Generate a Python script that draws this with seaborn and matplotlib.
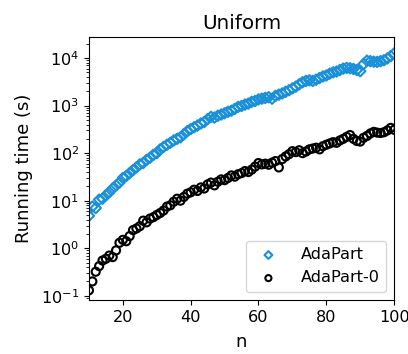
import numpy as np
import pandas as pd
import seaborn as sns
import matplotlib
matplotlib.use("Agg")
import matplotlib.pyplot as plt

n_values = list(range(10, 101))

adapart_time = [
    4.8, 7.5, 7.0, 10.5, 11, 13, 15, 18, 21, 24,
    30, 33, 38, 44, 50, 58, 62, 72, 80, 92,
    100, 120, 135, 150, 165, 185, 200, 215, 250, 290,
    320, 350, 380, 420, 450, 520, 580, 560, 610, 650,
    690, 740, 780, 850, 940, 980, 1050, 1100, 1200, 1250,
    1350, 1400, 1450, 1500, 1400, 1600, 1700, 1800, 1950, 2100,
    2300, 2500, 2800, 3100, 3300, 3400, 3300, 3500, 3800, 4100,
    4300, 4700, 5000, 5200, 5600, 6000, 6200, 6100, 5900, 5600,
    5300, 7500, 8800, 8600, 8400, 8300, 8600, 9000, 9800, 11000,
    12500,
]

adapart0_time = [
    0.13, 0.2, 0.32, 0.42, 0.55, 0.6, 0.7, 0.65, 0.9, 1.3,
    1.5, 1.4, 1.8, 2.4, 2.6, 2.9, 3.8, 3.5, 4.2, 4.5,
    5.0, 5.5, 6.2, 7.5, 8.0, 9.5, 11, 10, 12, 14,
    15, 17, 16, 19, 18, 22, 24, 21, 25, 28,
    27, 30, 34, 32, 36, 38, 42, 40, 45, 52,
    62, 58, 60, 57, 63, 68, 50, 75, 85, 95,
    110, 105, 115, 100, 108, 120, 125, 130, 120, 140,
    150, 160, 170, 165, 185, 200, 220, 240, 200, 180,
    175, 210, 230, 260, 280, 270, 265, 275, 300, 340,
    310,
]

df = pd.DataFrame({"n": n_values, "AdaPart": adapart_time, "AdaPart-0": adapart0_time})

sns.set_style("ticks")
plt.rcParams["font.family"] = ["DejaVu Sans"]
plt.rcParams.update({"text.color": "black", "axes.labelcolor": "black",
                     "xtick.color": "black", "ytick.color": "black",
                     "axes.edgecolor": "black"})

fig = plt.figure(figsize=(4.08, 3.54), dpi=100)
ax = fig.add_axes([0.218, 0.153, 0.748, 0.742])

sns.scatterplot(data=df, x="n", y="AdaPart", marker="D", s=28, facecolors="none",
                edgecolor="#1a90d9", linewidth=1.5, label="AdaPart", ax=ax)
sns.scatterplot(data=df, x="n", y="AdaPart-0", marker="o", s=34, facecolors="none",
                edgecolor="black", linewidth=1.5, label="AdaPart-0", ax=ax)

ax.set_yscale("log")
ax.set_xlim(10, 100)
ax.set_ylim(0.082, 2.75e4)
ax.set_xticks([20, 40, 60, 80, 100])
ax.tick_params(labelsize=11.6)
ax.set_xlabel("n", fontsize=13, labelpad=6)
ax.set_ylabel("Running time (s)", fontsize=13, labelpad=6)
ax.set_title("Uniform", fontsize=14.3)
for s in ax.spines.values():
    s.set_visible(True)
ax.legend(loc="lower right", fontsize=11.6, frameon=True, markerscale=0.75,
          handletextpad=1.0)

fig.savefig("out.png", dpi=100)
